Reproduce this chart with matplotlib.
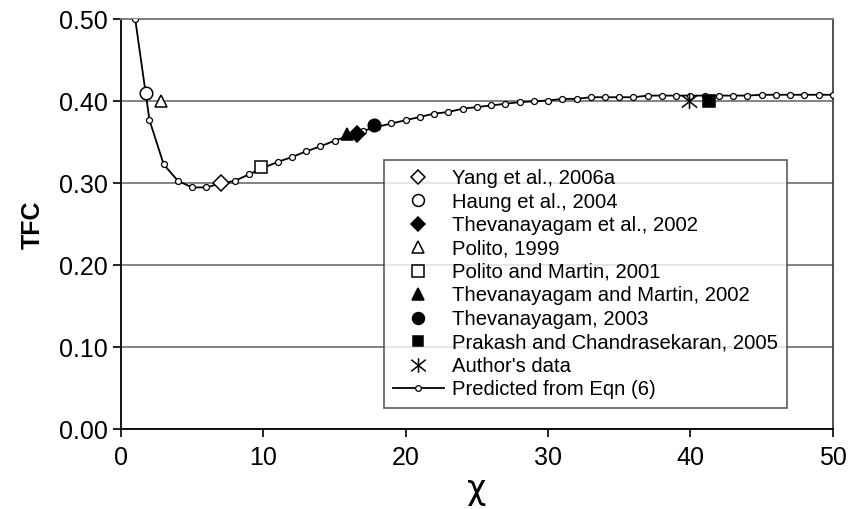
import numpy as np
import matplotlib
matplotlib.use("Agg")
from matplotlib import pyplot as plt
from matplotlib.path import Path

plt.rcParams['font.family'] = ['Liberation Sans', 'DejaVu Sans']

# predicted TFC from Eqn (6), one point per unit of chi
chi_pred = np.arange(1, 51)
tfc_pred = [0.500, 0.377, 0.323, 0.303, 0.295, 0.295, 0.300, 0.303, 0.311, 0.319,
            0.326, 0.332, 0.339, 0.345, 0.352, 0.358, 0.364, 0.369, 0.373, 0.377,
            0.381, 0.385, 0.387, 0.391, 0.393, 0.395, 0.397, 0.399, 0.400, 0.401,
            0.403, 0.403, 0.405, 0.405, 0.405, 0.405, 0.407, 0.407, 0.407, 0.407,
            0.407, 0.407, 0.407, 0.407, 0.408, 0.408, 0.408, 0.408, 0.408, 0.408]

# published data points: (label, chi, tfc)
sources = ["Yang et al., 2006a", "Haung et al., 2004", "Thevanayagam et al., 2002",
           "Polito, 1999", "Polito and Martin, 2001", "Thevanayagam and Martin, 2002",
           "Thevanayagam, 2003", "Prakash and Chandrasekaran, 2005", "Author's data"]
chi_obs = [7.0, 1.75, 16.6, 2.8, 9.8, 15.9, 17.8, 41.3, 39.9]
tfc_obs = [0.30, 0.41, 0.36, 0.40, 0.32, 0.36, 0.371, 0.40, 0.40]

# X with a vertical stroke through it
star = Path([(-1, -0.8), (1, 0.8), (-1, 0.8), (1, -0.8), (0, -1), (0, 1)],
            [Path.MOVETO, Path.LINETO, Path.MOVETO, Path.LINETO, Path.MOVETO, Path.LINETO])

styles = [
    dict(marker='D', mfc='white', ms=8),
    dict(marker='o', mfc='white', ms=9),
    dict(marker='D', mfc='black', ms=8),
    dict(marker='^', mfc='white', ms=9),
    dict(marker='s', mfc='white', ms=9),
    dict(marker='^', mfc='black', ms=9),
    dict(marker='o', mfc='black', ms=9),
    dict(marker='s', mfc='black', ms=8),
    dict(marker=star, mfc='none', ms=11),
]

fig = plt.figure(figsize=(8.48, 5.09), dpi=100)
ax = fig.add_axes([0.1427, 0.1566, 0.8393, 0.8054])

for lab, x, y, st in zip(sources, chi_obs, tfc_obs, styles):
    ax.plot([x], [y], linestyle='none', color='black', mec='black', mew=1.1,
            label=lab, zorder=4, **st)

ax.plot(chi_pred, tfc_pred, '-', color='black', lw=1.3, marker='o', ms=4.3,
        mfc='white', mec='black', mew=0.9, label='Predicted from Eqn (6)', zorder=3)

ax.set_xlim(0, 50)
ax.set_ylim(0, 0.5)
ax.set_xticks(np.arange(0, 51, 10))
ax.set_yticks(np.arange(0, 0.51, 0.1))
ax.set_yticklabels(['%.2f' % v for v in np.arange(0, 0.51, 0.1)])
ax.tick_params(axis='both', labelsize=18, direction='out', length=6, width=1.2)
ax.tick_params(axis='x', pad=6)
ax.yaxis.grid(True, color='#7a7a7a', lw=1.3)
ax.set_axisbelow(True)
for s in ['left', 'bottom']:
    ax.spines[s].set_linewidth(1.3)
ax.spines['top'].set_color('#7a7a7a')
ax.spines['right'].set_color('#444444')
ax.spines['top'].set_linewidth(1.3)
ax.spines['right'].set_linewidth(1.3)

ax.set_ylabel('TFC', fontsize=18, fontweight='bold', labelpad=10)
ax.set_xlabel('χ', fontsize=24, family='DejaVu Sans', labelpad=2)

leg = ax.legend(loc='lower left', bbox_to_anchor=(0.3695, 0.051), fontsize=14.6,
                frameon=True, fancybox=False, edgecolor='#333333',
                labelspacing=0.22, handletextpad=0.4, borderpad=0.45,
                borderaxespad=0, handlelength=2.5, markerscale=0.95)
leg.get_frame().set_linewidth(1.2)
leg.set_zorder(5)

fig.savefig('out.png', dpi=100)
